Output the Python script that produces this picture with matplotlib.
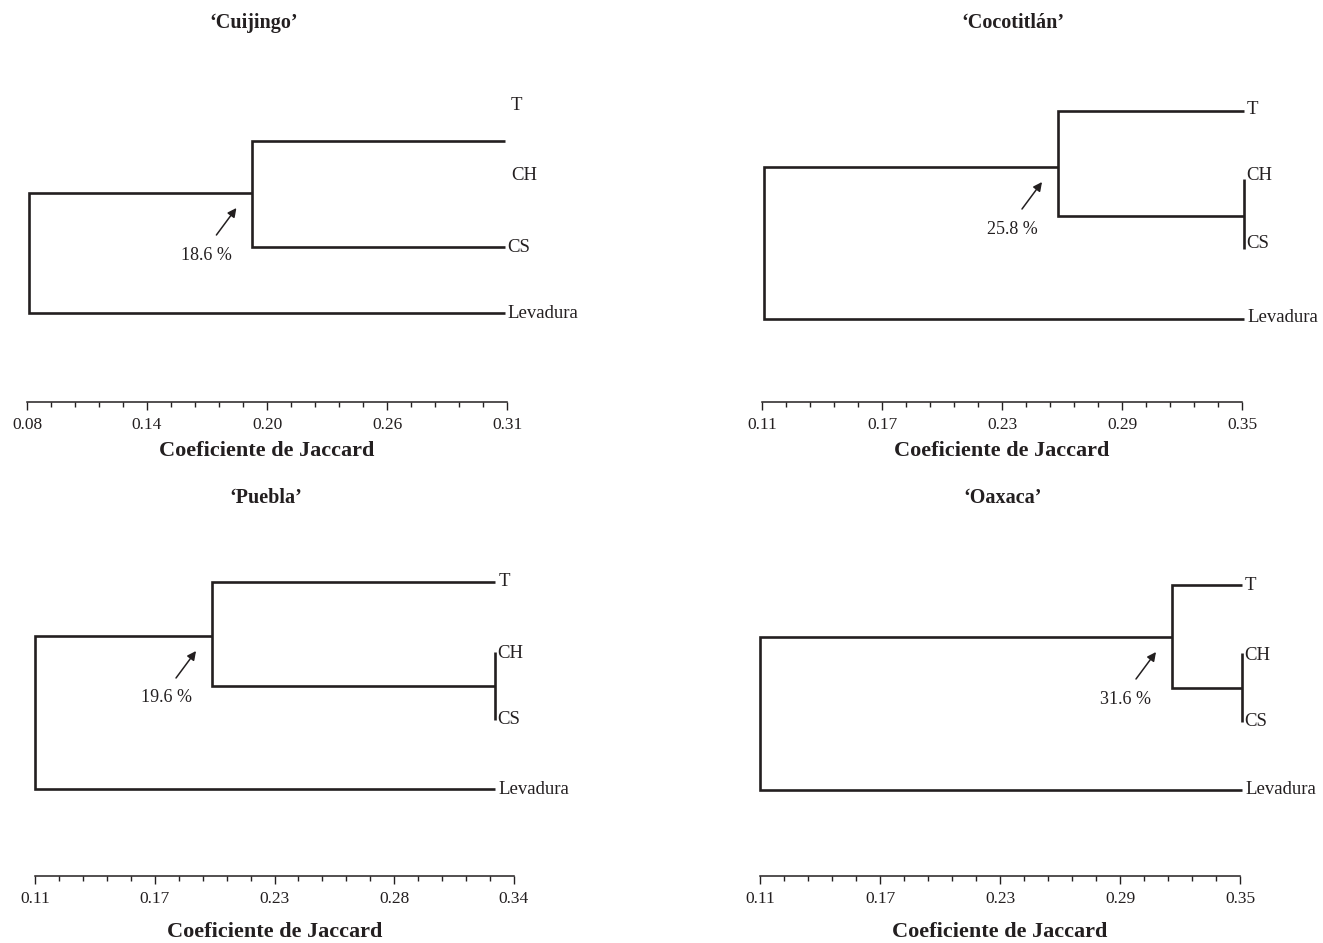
import numpy as np
import matplotlib
matplotlib.use("Agg")
import matplotlib.pyplot as plt
from matplotlib.transforms import offset_copy

# ---------------- data ----------------
titles = ["\u2018Cuijingo\u2019", "\u2018Cocotitl\u00e1n\u2019", "\u2018Puebla\u2019", "\u2018Oaxaca\u2019"]
axis_min = [0.08, 0.11, 0.11, 0.11]
axis_max = [0.31, 0.35, 0.34, 0.35]
tick_labels = [
    ["0.08", "0.14", "0.20", "0.26", "0.31"],
    ["0.11", "0.17", "0.23", "0.29", "0.35"],
    ["0.11", "0.17", "0.23", "0.28", "0.34"],
    ["0.11", "0.17", "0.23", "0.29", "0.35"],
]
leaves = ["T", "CH", "CS", "Levadura"]
root_sim = [0.081, 0.111, 0.110, 0.110]    # Levadura joins the rest
inner_sim = [0.188, 0.258, 0.195, 0.316]   # T joins (CH, CS)
leaf_sim = [0.309, 0.351, 0.331, 0.351]    # CH/CS junction and leaf tips
merge_labels = ["18.6 %", "25.8 %", "19.6 %", "31.6 %"]
xlabel = "Coeficiente de Jaccard"

# ---------------- layout (pixel rows / columns) ----------------
W, H = 1323, 943
FONT = ["Liberation Serif", "DejaVu Serif"]
INK = "#231f20"
plt.rcParams["font.family"] = FONT

panels = [
    dict(xl=27, xr=507, axis_row=402, top=60, title=(254, 23), tick_row=425, xlab_row=451,
         rows=dict(T=141, CH=None, CS=247, Lev=313, sub=None, root=193),
         labrows=dict(T=105, CH=175, CS=247, Lev=313), labdx=dict(T=6, CH=6, CS=2, Lev=3)),
    dict(xl=762, xr=1242, axis_row=402, top=60, title=(1013, 23), tick_row=425, xlab_row=451,
         rows=dict(T=111, CH=179, CS=249, Lev=319, sub=216, root=167),
         labrows=dict(T=110, CH=176, CS=243, Lev=318), labdx=dict(T=3, CH=2, CS=2, Lev=3)),
    dict(xl=35, xr=514, axis_row=876, top=540, title=(266, 498), tick_row=899, xlab_row=932,
         rows=dict(T=582, CH=652, CS=720, Lev=789, sub=686, root=636),
         labrows=dict(T=582, CH=654, CS=720, Lev=789), labdx=dict(T=3, CH=2, CS=2, Lev=3)),
    dict(xl=760, xr=1240, axis_row=876, top=540, title=(1003, 498), tick_row=899, xlab_row=932,
         rows=dict(T=585, CH=653, CS=722, Lev=790, sub=688, root=637),
         labrows=dict(T=586, CH=656, CS=721, Lev=790), labdx=dict(T=3, CH=2, CS=2, Lev=3)),
]

fig = plt.figure(figsize=(W / 100, H / 100), dpi=100)
fig.patch.set_facecolor("white")

LW = 1.9

for i, p in enumerate(panels):
    ax = fig.add_axes([p["xl"] / W, 1 - p["axis_row"] / H,
                       (p["xr"] - p["xl"]) / W, (p["axis_row"] - p["top"]) / H])
    ax.set_xlim(axis_min[i], axis_max[i])
    ax.set_ylim(p["axis_row"], p["top"])
    ax.patch.set_alpha(0)
    for s in ("top", "right", "left"):
        ax.spines[s].set_visible(False)
    ax.spines["bottom"].set_linewidth(1.1)
    ax.spines["bottom"].set_color(INK)
    ax.set_yticks([])
    ax.set_xticks(np.linspace(axis_min[i], axis_max[i], 5))
    ax.set_xticks(np.linspace(axis_min[i], axis_max[i], 21), minor=True)
    ax.set_xticklabels([])
    ax.tick_params(axis="x", which="major", direction="out", length=6, width=1.0, color=INK)
    ax.tick_params(axis="x", which="minor", direction="out", length=3.5, width=1.0, color=INK)

    # tick labels and axis title as figure text at fixed rows
    for tv, tl in zip(np.linspace(axis_min[i], axis_max[i], 5), tick_labels[i]):
        xd = ax.transData.transform((tv, p["axis_row"]))[0]
        fig.text(xd / W, 1 - p["tick_row"] / H, tl, ha="center", va="center",
                 fontsize=12.5, color=INK)
    fig.text((p["xl"] + p["xr"]) / 2 / W, 1 - p["xlab_row"] / H, xlabel,
             ha="center", va="center", fontsize=16, fontweight="bold", color=INK)
    fig.text(p["title"][0] / W, 1 - p["title"][1] / H, titles[i],
             ha="center", va="center", fontsize=14.5, fontweight="bold", color=INK)

    r = p["rows"]
    rs, ins, ls = root_sim[i], inner_sim[i], leaf_sim[i]
    kw = dict(color=INK, lw=LW, solid_capstyle="butt", solid_joinstyle="miter", clip_on=False)
    # root bracket
    ax.plot([ls, rs, rs, ins], [r["Lev"], r["Lev"], r["root"], r["root"]], **kw)
    if r["sub"] is None:
        # T and CS joined directly
        ax.plot([ls, ins, ins, ls], [r["T"], r["T"], r["CS"], r["CS"]], **kw)
    else:
        ax.plot([ls, ins, ins, ls], [r["T"], r["T"], r["sub"], r["sub"]], **kw)
        ax.plot([ls, ls], [r["CH"], r["CS"]], **kw)

    # leaf labels
    lr, dx = p["labrows"], p["labdx"]
    for key, name in zip(["T", "CH", "CS", "Lev"], leaves):
        ax.annotate(name, xy=(ls, lr[key]), xytext=(dx[key], 0), textcoords="offset pixels",
                    ha="left", va="center", fontsize=13.5, color=INK, annotation_clip=False)

    # arrow and percentage
    head_tr = offset_copy(ax.transData, fig=fig, x=-16, y=-15, units="dots")
    ax.annotate("", xy=(ins, r["root"]), xycoords=head_tr,
                xytext=(-20, -27), textcoords="offset pixels",
                arrowprops=dict(arrowstyle="-|>", lw=1.1, color=INK, mutation_scale=13,
                                shrinkA=0, shrinkB=0))
    ax.annotate(merge_labels[i], xy=(ins, r["root"]), xytext=(-46, -62),
                textcoords="offset pixels", ha="center", va="center",
                fontsize=13, color=INK)

fig.savefig("out.png", dpi=100, facecolor="white")
